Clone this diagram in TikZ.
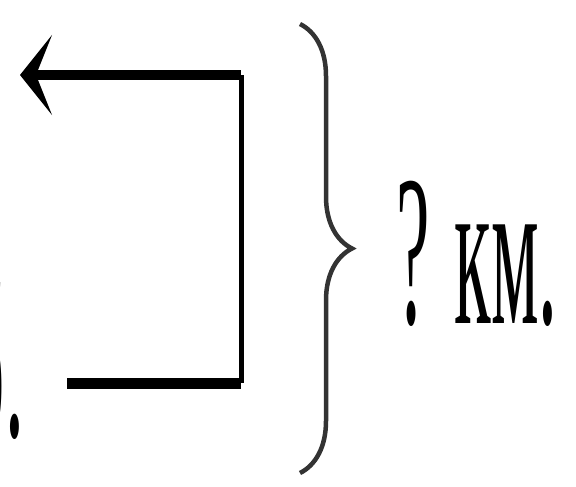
\documentclass[tikz,border=0pt]{standalone}
\usepackage{fontspec}
\setmainfont{Liberation Serif}
\usepackage{tikz}
\usetikzlibrary{arrows.meta,decorations.pathreplacing}

\begin{document}
\begin{tikzpicture}[>={Stealth[length=32pt,width=80pt,inset=16pt]},x=1pt,y=-1pt,
  bigtext/.style={inner sep=0pt,font=\fontsize{215}{215}\selectfont}]
\useasboundingbox (0,0) rectangle (576,487);
\coordinate (start) at (67,383);
\coordinate (low) at (241,383);
\coordinate (high) at (241,75);
\coordinate (tip) at (20,75);
\draw[line width=11pt] (start)--(low);
\draw[line width=5pt] (low)--(high);
\draw[->,line width=10pt] (high)--(tip);
\coordinate (btop) at (300,24);
\coordinate (bbot) at (300,473);
\draw[line width=4.5pt,black!80,decorate,decoration={brace,amplitude=52pt,raise=0pt}]
   (btop)--(bbot);
\node[bigtext,anchor=base west] (dist) at (396,323){\scalebox{0.35}[1]{? км.}};
\node[bigtext,anchor=base east] (label) at (24,436){\scalebox{0.35}[1]{б.}};
\end{tikzpicture}
\end{document}
